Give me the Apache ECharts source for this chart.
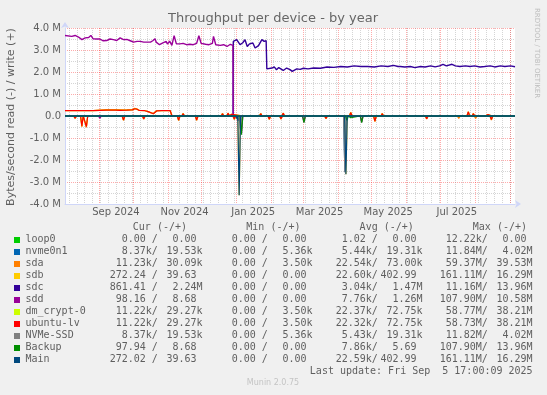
<!DOCTYPE html>
<html><head><meta charset="utf-8">
<script src="https://cdn.jsdelivr.net/npm/echarts@6/dist/echarts.min.js"></script>
<style>html,body{margin:0;padding:0;background:#F0F0F0}#c{width:547px;height:395px}</style>
</head><body><div id="c"></div>
<script>
// ---- time frame: days since START, Munin "year" graph covers 400 days
const START = Date.UTC(2024, 7, 1, 17, 0, 9);
const SPAN = 400;

// ---- axis tick labels
const xTickLabels = ["Sep 2024", "Nov 2024", "Jan 2025", "Mar 2025", "May 2025", "Jul 2025"];
const xTickMonths = [[2024, 8], [2024, 10], [2025, 0], [2025, 2], [2025, 4], [2025, 6]];
const yMin = -4, yMax = 4, yStep = 1; // in M bytes/s

// ---- series values: [day, MB/s]  (write positive, read negative)
const sddWrite = [[0,3.66],[1.5,3.65],[6,3.62],[9,3.66],[12,3.59],[15,3.47],[18,3.55],[21,3.57],[23,3.66],[25,3.51],[28,3.5],[31,3.5],[34,3.42],[37,3.43],[40,3.5],[43,3.47],[46,3.43],[49,3.55],[52,3.47],[55,3.48],[58,3.42],[61,3.36],[64,3.39],[67,3.39],[70,3.36],[73,3.36],[76,3.36],[78,3.42],[80,3.51],[81,3.36],[84,3.24],[87,3.32],[90,3.39],[91,3.27],[93,3.4],[95,3.21],[97,3.65],[98,3.62],[99,3.28],[102,3.28],[105,3.3],[108,3.24],[111,3.26],[114,3.24],[117,3.3],[119,3.65],[121,3.3],[125,3.26],[128,3.24],[131,3.3],[132,3.62],[134,3.24],[138,3.21],[141,3.24],[144,3.16],[147,3.26],[149.3,3.21],[149.6,0],[400,0]];
const sdcWrite = [[0,0],[149.4,0],[149.6,3.39],[152.6,3.47],[155.6,3.24],[158,3.33],[160,3.47],[162,3.16],[164,3.28],[167,3.32],[169,3.09],[172,3.2],[175,3.47],[177,3.39],[178.8,3.42],[179.4,2.14],[181,2.14],[184,2.18],[186,2.23],[188,2.1],[190,2.2],[191,2.18],[194,2.07],[197,2.18],[200,2.11],[202,2.03],[206,2.14],[209,2.12],[212,2.17],[216,2.14],[221,2.18],[227,2.17],[233,2.23],[239,2.21],[245,2.25],[251,2.23],[257,2.28],[263,2.25],[269,2.25],[275,2.23],[281,2.28],[287,2.25],[292,2.3],[296,2.25],[298,2.25],[302,2.23],[307,2.25],[311,2.2],[316,2.25],[320,2.23],[325,2.28],[329,2.23],[333,2.28],[336,2.35],[339,2.28],[344,2.35],[347,2.28],[351,2.25],[356,2.28],[360,2.25],[364,2.28],[369,2.23],[373,2.25],[378,2.28],[382,2.23],[387,2.28],[391,2.25],[396,2.28],[400,2.24]];
const ubuntuWriteEarly = [[0,0.24],[5,0.24],[13,0.25],[25,0.24],[31,0.26],[37,0.27],[45,0.27],[49,0.26],[55,0.27],[60,0.28],[62,0.33],[64,0.31],[66,0.25],[71,0.24],[74,0.2],[75.5,0.14],[78.5,0.1],[80,0.15],[81.5,0.23],[86,0.24],[90,0.24],[93.5,0.24],[95,0.01]];
const sdaWriteEarly = [[0,0.25],[13,0.25],[25,0.25],[31,0.27],[37,0.29],[45,0.29],[55,0.28],[60,0.3],[62,0.35],[64,0.32],[66,0.26],[71,0.25],[75.5,0.16],[78.5,0.12],[81.5,0.25],[90,0.25],[93.5,0.25],[95,0.02]];
const ubuntuWriteSpikes = [[100,0.04],[105,0.1],[112,0.04],[127,0.08],[135,0.05],[140,0.1],[145,0.12],[148,0.08],[160,0.06],[174,0.1],[194,0.12],[205,0.05],[220.7,0.08],[228,0.08],[234,0.08],[240,0.06],[254,0.15],[260,0.05],[282,0.1],[289.5,0.08],[298.5,0.05],[310,0.05],[317,0.08],[327,0.06],[336,0.06],[346,0.06],[358.5,0.18],[363,0.1],[372,0.07],[376,0.07],[381,0.07],[389,0.05],[398,0.05]];
const sdaWriteSpikes = [[105,0.12],[140,0.12],[145,0.14],[174,0.12],[194,0.14],[254,0.17],[282,0.12],[358.5,0.2],[363,0.12],[376,0.09]];
const ubuntuRead = [[9,-0.1],[15,-0.45],[19,-0.48],[52,-0.18],[70,-0.13],[101,-0.18],[117,-0.18],[150.5,-0.14],[181.6,-0.14],[192,-0.13],[232,-0.11],[275.5,-0.23],[321.5,-0.12],[350,-0.09],[365,-0.09],[379,-0.16]];
const sdaRead = [[9,-0.11],[15,-0.5],[19,-0.52],[52,-0.2],[70,-0.15],[101,-0.21],[117,-0.2],[150.5,-0.16],[181.6,-0.16],[192,-0.15],[232,-0.13],[275.5,-0.26],[321.5,-0.14],[350,-0.11],[365,-0.11],[379,-0.18]];
const backupRead = [[156.8,-0.85],[201,-0.05],[212.4,-0.3],[250.6,-0.2],[254,-0.08],[263.7,-0.3]];
const sddRead = [[31,-0.1],[156.8,-0.82],[212.4,-0.28],[263.7,-0.28]];
const nvmeRead = [[153.8,-0.22],[156.2,-0.7],[248.8,-2.55]];
const mainRead = [[153.2,-0.15],[154.8,-3.6],[249.7,-2.65]];
const sdcRead = [[241.5,-0.06],[332,-0.05]];

// ---- legend table
const devNames = ["loop0","nvme0n1","sda","sdb","sdc","sdd","dm_crypt-0","ubuntu-lv","NVMe-SSD","Backup","Main"];
const devColors = ["#00CC00","#0066B3","#FF8000","#FFCC00","#330099","#990099","#CCFF00","#FF0000","#808080","#008F00","#00487D"];
const curR = ["0.00","8.37k","11.23k","272.24","861.41","98.16","11.22k","11.22k","8.37k","97.94","272.02"];
const curW = ["0.00","19.53k","30.09k","39.63","2.24M","8.68","29.27k","29.27k","19.53k","8.68","39.63"];
const minR = ["0.00","0.00","0.00","0.00","0.00","0.00","0.00","0.00","0.00","0.00","0.00"];
const minW = ["0.00","5.36k","3.50k","0.00","0.00","0.00","3.50k","3.50k","5.36k","0.00","0.00"];
const avgR = ["1.02","5.44k","22.54k","22.60k","3.04k","7.76k","22.37k","22.32k","5.43k","7.86k","22.59k"];
const avgW = ["0.00","19.31k","73.00k","402.99","1.47M","1.26M","72.75k","72.75k","19.31k","5.69","402.99"];
const maxR = ["12.22k","11.84M","59.37M","161.11M","11.16M","107.90M","58.77M","58.73M","11.82M","107.90M","161.11M"];
const maxW = ["0.00","4.02M","39.53M","16.29M","13.96M","10.58M","38.21M","38.21M","4.02M","13.96M","16.29M"];
const colHeaders = ["Cur (-/+)","Min (-/+)","Avg (-/+)","Max (-/+)"];
const lastUpdate = "Last update: Fri Sep  5 17:00:09 2025";

// ---- helpers
const DAY = 86400000;
const dayOf = (y, m, d) => (Date.UTC(y, m, d) - START) / DAY;
const SPIKE_W = 1.2;
function buildLine(base, spikes) {
  const pts = base.slice();
  spikes.forEach(([d, v]) => { pts.push([d - SPIKE_W, 0], [d, v], [d + SPIKE_W, 0]); });
  pts.sort((a, b) => a[0] - b[0]);
  if (pts[pts.length - 1][0] < SPAN) pts.push([SPAN, 0]);
  return pts;
}
const zeroBase = [[0, 0]];
const flat = [[0, 0], [SPAN, 0]];

const devRead = [flat, buildLine(zeroBase, nvmeRead), buildLine(zeroBase, sdaRead), buildLine(zeroBase, mainRead),
  buildLine(zeroBase, sdcRead), buildLine(zeroBase, sddRead), buildLine(zeroBase, ubuntuRead), buildLine(zeroBase, ubuntuRead),
  buildLine(zeroBase, nvmeRead), buildLine(zeroBase, backupRead), buildLine(zeroBase, mainRead)];
const devWrite = [flat, flat, buildLine(sdaWriteEarly, sdaWriteSpikes), flat, sdcWrite, sddWrite,
  buildLine(ubuntuWriteEarly, ubuntuWriteSpikes), buildLine(ubuntuWriteEarly, ubuntuWriteSpikes), flat, flat, flat];

// grid lines (months major, Mondays minor)
const vGrid = [];
let wk = dayOf(2024, 7, 5);
for (; wk <= SPAN; wk += 7) vGrid.push([wk, 0]);
for (let i = 0; i < 14; i++) {
  const d = dayOf(2024, 7 + i, 1);
  if (d >= 0 && d <= SPAN) vGrid.push([d, 1]);
}
const labelDays = xTickMonths.map(([y, m]) => dayOf(y, m, 16));

const FONT = "DejaVu Sans";
const MONO = "DejaVu Sans Mono";
const TXT = "#5f5f5f";
const MAJOR = 'rgba(255,0,0,0.33)';
const MINOR = 'rgba(128,128,128,0.33)';

const series = [{
  type: 'custom', z: 1, silent: true, clip: true,
  data: vGrid,
  encode: { x: 0, y: 1 },
  renderItem: function (params, api) {
    const d = api.value(0), kind = api.value(1);
    const p1 = api.coord([d, yMax]), p2 = api.coord([d, yMin]);
    const x = Math.round(p1[0]) + 0.5;
    return { type: 'line', shape: { x1: x, y1: p1[1], x2: x, y2: p2[1] - 1 },
      style: { stroke: kind ? MAJOR : MINOR, lineWidth: 1, lineDash: [1, 1] } };
  }
}];
devNames.forEach((n, i) => {
  const w = (n === 'sdc' || n === 'sdd') ? 1.4 : 1.2;
  series.push({ name: n + ' read', type: 'line', data: devRead[i], showSymbol: false, symbol: 'none', z: 2 + i,
    lineStyle: { color: devColors[i], width: w }, itemStyle: { color: devColors[i] }, animation: false, silent: true });
  series.push({ name: n + ' write', type: 'line', data: devWrite[i], showSymbol: false, symbol: 'none', z: 2 + i,
    lineStyle: { color: devColors[i], width: w }, itemStyle: { color: devColors[i] }, animation: false, silent: true });
});
series[series.length - 1].markLine = {
  silent: true, symbol: 'none', label: { show: false }, animation: false,
  data: [{ yAxis: 0, lineStyle: { color: '#00487D', width: 2, type: 'solid' } },
         { yAxis: 0, lineStyle: { color: '#000000', width: 2, type: [2, 2] } }]
};

// legend graphic
const graphic = [];
graphic.push({ type: 'text', x: 273, y: 19, style: { text: 'Throughput per device - by year', font: '13px ' + FONT, fill: '#666', textAlign: 'center', textVerticalAlign: 'middle' } });
graphic.push({ type: 'text', x: 11, y: 117, rotation: Math.PI / 2, style: { text: 'Bytes/second read (-) / write (+)', font: '11px ' + FONT, fill: TXT, textAlign: 'center', textVerticalAlign: 'middle' } });
graphic.push({ type: 'text', x: 537, y: 53, rotation: -Math.PI / 2, style: { text: 'RRDTOOL / TOBI OETIKER', font: '7px ' + FONT, fill: '#bdbdbd', textAlign: 'center', textVerticalAlign: 'middle' } });
graphic.push({ type: 'text', x: 273, y: 383, style: { text: 'Munin 2.0.75', font: '8px ' + FONT, fill: '#c4c4c4', textAlign: 'center', textVerticalAlign: 'middle' } });
const CW = 6.02;
const headerRight = [187, 300.5, 413.8, 527];
colHeaders.forEach((h, j) => graphic.push({ type: 'text', x: headerRight[j], y: 227.5, style: { text: h, font: '10px ' + MONO, fill: TXT, textAlign: 'right', textVerticalAlign: 'middle' } }));
const readRight = [157.8, 267.8, 377.8, 487.8];
const writeRight = [202.6, 312.6, 422.6, 532.6];
const cols = [[curR, curW], [minR, minW], [avgR, avgW], [maxR, maxW]];
const isNum = s => /[0-9]$/.test(s);
devNames.forEach((n, i) => {
  const y = 239.7 + 12 * i;
  graphic.push({ type: 'rect', shape: { x: 14, y: Math.round(y) - 3, width: 6, height: 6 }, style: { fill: devColors[i] } });
  graphic.push({ type: 'text', x: 25.5, y: y, style: { text: n, font: '10px ' + MONO, fill: TXT, textAlign: 'left', textVerticalAlign: 'middle' } });
  cols.forEach(([r, w], j) => {
    const rs = r[i] + (isNum(r[i]) ? ' /' : '/');
    graphic.push({ type: 'text', x: readRight[j], y: y, style: { text: rs, font: '10px ' + MONO, fill: TXT, textAlign: 'right', textVerticalAlign: 'middle' } });
    graphic.push({ type: 'text', x: writeRight[j] - (isNum(w[i]) ? CW : 0), y: y, style: { text: w[i], font: '10px ' + MONO, fill: TXT, textAlign: 'right', textVerticalAlign: 'middle' } });
  });
});
graphic.push({ type: 'text', x: 532.6, y: 371.7, style: { text: lastUpdate, font: '10px ' + MONO, fill: TXT, textAlign: 'right', textVerticalAlign: 'middle' } });

const chart = echarts.init(document.getElementById('c'), null, { renderer: 'canvas' });
chart.setOption({
  backgroundColor: '#F0F0F0',
  animation: false,
  grid: { left: 65, top: 28, width: 450, height: 176, show: true, backgroundColor: '#FFFFFF', borderWidth: 0 },
  xAxis: {
    type: 'value', min: 0, max: SPAN,
    axisLine: { show: true, onZero: false, lineStyle: { color: '#CFD6F8', width: 1 }, symbol: ['none', 'arrow'], symbolSize: [6, 6], symbolOffset: [0, 6] },
    axisTick: { show: false },
    splitLine: { show: false },
    axisLabel: { show: true, customValues: labelDays, margin: 3, color: TXT, fontSize: 10, fontFamily: FONT,
      formatter: v => { const k = labelDays.findIndex(d => Math.abs(d - v) < 0.01); return k >= 0 ? xTickLabels[k] : ''; } }
  },
  yAxis: {
    type: 'value', min: yMin, max: yMax, interval: yStep,
    axisLine: { show: true, lineStyle: { color: '#CFD6F8', width: 1 }, symbol: ['none', 'arrow'], symbolSize: [6, 6], symbolOffset: [0, 6] },
    axisTick: { show: false },
    axisLabel: { color: TXT, fontSize: 10, fontFamily: FONT, margin: 4,
      formatter: v => v === 0 ? '0.0' : v.toFixed(1) + ' M' },
    splitLine: { show: true, lineStyle: { color: MAJOR, width: 1, type: [1, 1] } },
    minorTick: { show: false, splitNumber: 2 },
    minorSplitLine: { show: true, lineStyle: { color: MINOR, width: 1, type: [1, 1] } }
  },
  series: series,
  graphic: graphic
});
</script></body></html>
